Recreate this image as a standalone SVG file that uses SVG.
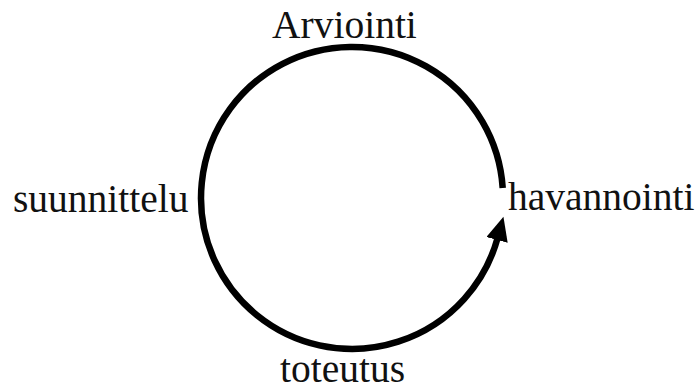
<svg xmlns="http://www.w3.org/2000/svg" width="700" height="387" viewBox="0 0 700 387">
  <style>
    .lbl { font-family: "Liberation Serif", "Times New Roman", serif; font-size: 39.5px; fill: #111; }
    .cyc { fill: none; stroke: #000; stroke-width: 6.5; }
  </style>
  <defs>
    <marker id="ah" markerUnits="userSpaceOnUse" markerWidth="26" markerHeight="22" refX="2" refY="11" orient="auto">
      <path d="M0,0 L24,11 L0,22 z" fill="#000"/>
    </marker>
  </defs>
  <rect width="700" height="387" fill="#fff"/>
  <g id="connectors">
    <path class="cyc" d="M 502.7 188 A 151 151 0 1 0 497.6 238" marker-end="url(#ah)"/>
  </g>
  <g id="node-arviointi"><text class="lbl" x="272" y="38">Arviointi</text></g>
  <g id="node-havannointi"><text class="lbl" x="508" y="210">havannointi</text></g>
  <g id="node-suunnittelu"><text class="lbl" x="13" y="212">suunnittelu</text></g>
  <g id="node-toteutus"><text class="lbl" x="280" y="382">toteutus</text></g>
</svg>
